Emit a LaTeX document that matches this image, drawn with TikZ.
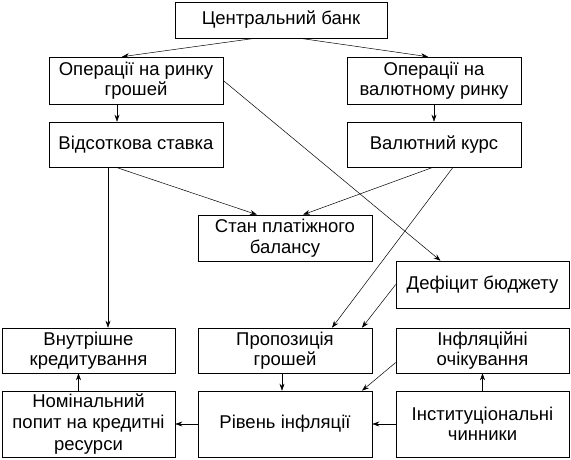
\documentclass[tikz,border=0pt]{standalone}
\usepackage{fontspec}
\setmainfont{Liberation Sans}
\usetikzlibrary{positioning, arrows.meta, calc}
\tikzset{
  blok/.style={draw, line width=0.6pt, minimum width=174pt, minimum height=46pt,
    inner sep=0pt, align=center, font=\fontsize{18.5}{20.5}\selectfont},
  zv/.style={-{Stealth[length=7pt,width=5pt]}, line width=0.5pt}
}
\begin{document}
\begin{tikzpicture}[x=1pt, y=-1pt]
  \useasboundingbox (0,0) rectangle (571,459);
  % верхній рівень
  \node[blok, minimum width=212pt, minimum height=36pt] (cb) at (281,20) {Центральний банк};
  \node[blok, minimum height=47pt] (opg) at (136,80.5) {Операції на ринку\\грошей};
  \node[blok, minimum height=47pt] (opv) at (434,80.5) {Операції на\\валютному ринку};
  \node[blok, minimum height=45pt] (vs) at (136,144.5) {Відсоткова ставка};
  \node[blok, minimum height=45pt] (vk) at (434,144.5) {Валютний курс};
  % середина
  \node[blok] (stan) at (285,238) {Стан платіжного\\балансу};
  \node[blok, minimum width=173pt, minimum height=47pt] (def) at (482.5,284.5) {Дефіцит бюджету};
  % нижні рівні
  \node[blok, minimum width=173pt, minimum height=45pt] (vnk) at (88.5,350.5) {Внутрішне\\кредитування};
  \node[blok, minimum height=45pt] (prop) at (285,350.5) {Пропозиція\\грошей};
  \node[blok, minimum width=173pt, minimum height=45pt] (inf) at (482.5,350.5) {Інфляційні\\очікування};
  \node[blok, minimum width=173pt, minimum height=66pt, font=\fontsize{18.5}{21.5}\selectfont] (nom) at (88.5,424) {Номінальний\\попит на кредитні\\ресурси};
  \node[blok, minimum height=66pt] (riv) at (285,424) {Рівень інфляції};
  \node[blok, minimum width=173pt, minimum height=66pt] (inst) at (482.5,424) {Інституціональні\\чинники};
  % зв'язки
  \draw[zv] ($(cb.south)+(-26,0)$) -- ($(opg.north)+(-14,0)$);
  \draw[zv] ($(cb.south)+(19,0)$) -- ($(opv.north)+(-6,0)$);
  \draw[zv] ($(opg.south)+(-19,0)$) -- ($(vs.north)+(-19,0)$);
  \draw[zv] (opv) -- (vk);
  \draw[zv] (opg.east) -- ($(def.north)+(-42,0)$);
  \draw[zv] ($(vs.south)+(-20,0)$) -- ($(stan.north)+(-28,0)$);
  \draw[zv] ($(vk.south)+(-1,0)$) -- ($(stan.north)+(18,0)$);
  \draw[zv] ($(vk.south)+(19,0)$) -- ($(prop.north)+(47,0)$);
  \draw[zv] (def.west) -- ($(prop.north)+(77,0)$);
  \draw[zv] ($(inf.west)+(0,12)$) -- ($(riv.north)+(77,0)$);
  \draw[zv] ($(prop.south)+(-3,0)$) -- ($(riv.north)+(-3,0)$);
  \draw[zv] (inst) -- (riv);
  \draw[zv] (riv) -- (nom);
  \draw[zv] ($(nom.north)+(-10,0)$) -- ($(vnk.south)+(-10,0)$);
  \draw[zv] (inst) -- (inf);
  \draw[zv] ($(vs.south)+(-28,0)$) coordinate (vv) -- (vv |- vnk.north);
\end{tikzpicture}
\end{document}
